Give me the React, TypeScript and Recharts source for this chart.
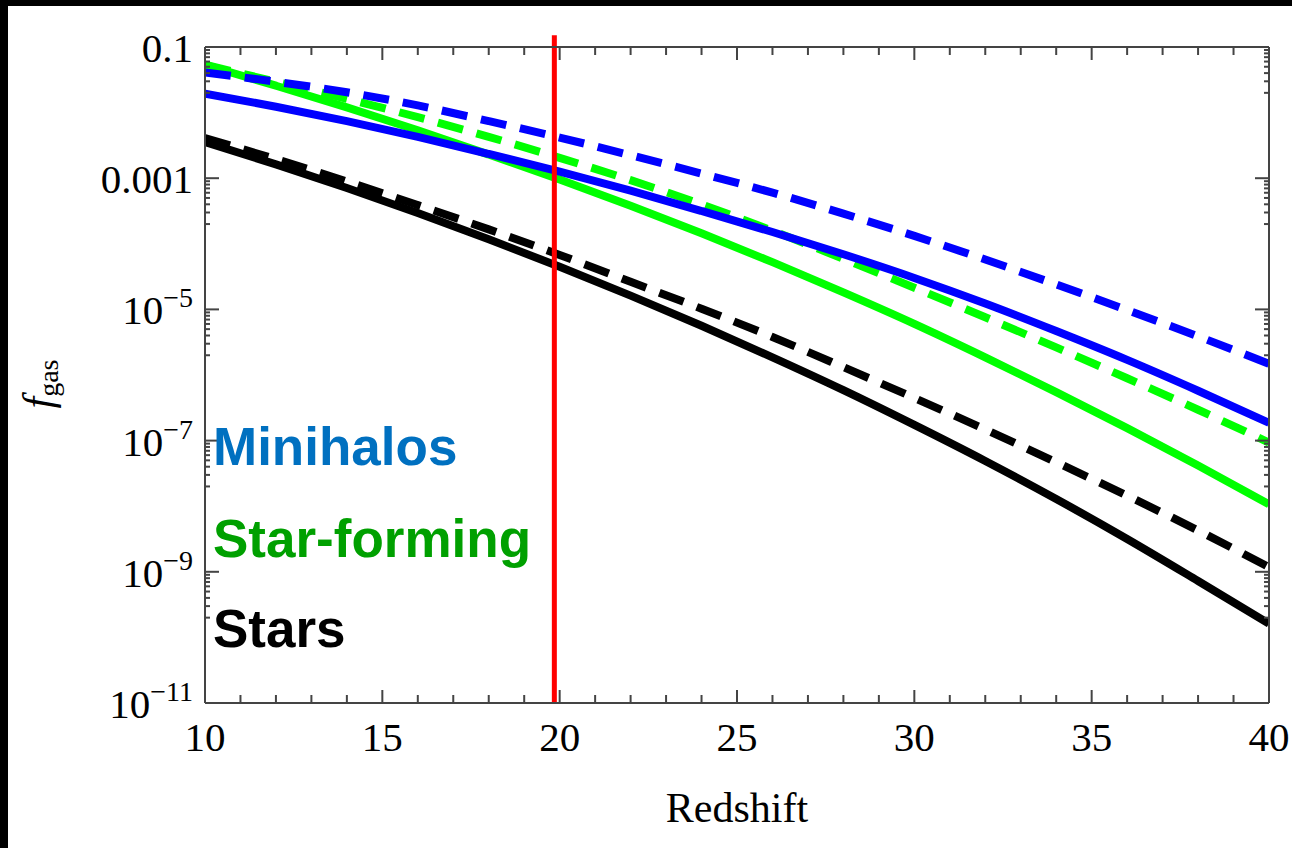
import { LineChart, Line, XAxis, YAxis, ReferenceLine } from "recharts";

// Redshift samples and log10(f_gas)
const redshift = [10, 12, 14, 16, 18, 20, 22, 24, 26, 28, 30, 32, 34, 36, 38, 40];

// Minihalos (blue)
const miniSolid = [-1.71, -1.91, -2.13, -2.37, -2.63, -2.9, -3.19, -3.5, -3.82, -4.16, -4.52, -4.91, -5.33, -5.77, -6.24, -6.73];
const miniDash = [-1.39, -1.53, -1.69, -1.89, -2.13, -2.38, -2.65, -2.93, -3.22, -3.54, -3.88, -4.24, -4.62, -5.01, -5.41, -5.83];

// Star-forming (green)
const sfSolid = [-1.27, -1.59, -1.92, -2.27, -2.64, -3.02, -3.42, -3.84, -4.28, -4.74, -5.22, -5.73, -6.26, -6.81, -7.38, -7.97];
const sfDash = [-1.27, -1.53, -1.79, -2.07, -2.37, -2.69, -3.03, -3.4, -3.8, -4.23, -4.67, -5.12, -5.58, -6.05, -6.53, -7.03];

// Stars (black)
const starSolid = [-2.45, -2.79, -3.15, -3.53, -3.93, -4.35, -4.79, -5.25, -5.73, -6.23, -6.76, -7.31, -7.89, -8.5, -9.14, -9.79];
const starDash = [-2.39, -2.71, -3.05, -3.41, -3.78, -4.17, -4.58, -4.99, -5.42, -5.88, -6.35, -6.83, -7.33, -7.84, -8.37, -8.93];

const cutoffZ = 19.85;

// axis ticks
const xTicks = Array.from({ length: 31 }, (_, i) => 10 + i);
const yLabelTicks = [-1, -3, -5, -7, -9, -11];
const yTickBase = ["0.1", "0.001", "10", "10", "10", "10"];
const yTickExp = ["", "", "\u22125", "\u22127", "\u22129", "\u221211"];
const minorMantissa = [2, 3, 4, 5, 6, 7, 8, 9];

// minor log ticks in the decade below each labelled one
const yMinorTicks = yLabelTicks
  .filter((m) => m > -11)
  .flatMap((m) => minorMantissa.map((j) => m - 1 + Math.log10(j)));
const yTicks = [...yLabelTicks, ...yMinorTicks].sort((a, b) => a - b);

const data = redshift.map((z, i) => ({
  z,
  miniSolid: miniSolid[i],
  miniDash: miniDash[i],
  sfSolid: sfSolid[i],
  sfDash: sfDash[i],
  starSolid: starSolid[i],
  starDash: starDash[i],
}));

const FRAME = "#444";
const SERIF = "'Liberation Serif', 'Times New Roman', serif";
const SANS = "'Liberation Sans', Arial, sans-serif";
const LW = 8;
const DASH = "26 14";

function BottomTick(props: any) {
  const { x, y, payload } = props;
  const major = payload.value % 5 === 0;
  return (
    <g>
      <line x1={x} y1={y} x2={x} y2={y - (major ? 13 : 8)} stroke={FRAME} strokeWidth={2} />
      {major && (
        <text x={x} y={y + 48} textAnchor="middle" fontFamily={SERIF} fontSize={41} fill="#000">
          {payload.value}
        </text>
      )}
    </g>
  );
}

function TopTick(props: any) {
  const { x, y, payload } = props;
  const major = payload.value % 5 === 0;
  return <line x1={x} y1={y} x2={x} y2={y + (major ? 13 : 8)} stroke={FRAME} strokeWidth={2} />;
}

function LeftTick(props: any) {
  const { x, y, payload } = props;
  const idx = yLabelTicks.indexOf(payload.value);
  const major = idx >= 0;
  return (
    <g>
      <line x1={x} y1={y} x2={x + (major ? 14 : 5)} y2={y} stroke={FRAME} strokeWidth={2} />
      {major && (
        <text x={x - 12} y={y + 15} textAnchor="end" fontFamily={SERIF} fontSize={41} fill="#000">
          <tspan>{yTickBase[idx]}</tspan>
          {yTickExp[idx] && (
            <tspan dy={-17} fontSize={28}>
              {yTickExp[idx]}
            </tspan>
          )}
        </text>
      )}
    </g>
  );
}

function RightTick(props: any) {
  const { x, y, payload } = props;
  const major = yLabelTicks.includes(payload.value);
  return <line x1={x} y1={y} x2={x - (major ? 14 : 5)} y2={y} stroke={FRAME} strokeWidth={2} />;
}

export default function App() {
  return (
    <div style={{ position: "absolute", left: 0, top: 0, width: 1292, height: 848, background: "#000" }}>
      <div style={{ position: "absolute", left: 8, top: 6, right: 0, bottom: 0, background: "#fff" }} />
      <div style={{ position: "absolute", left: 0, top: 0 }}>
        <LineChart width={1292} height={848} data={data} margin={{ top: 46, right: 22, bottom: 85, left: 25 }}>
          <XAxis
            dataKey="z"
            type="number"
            domain={[10, 40]}
            ticks={xTicks}
            interval={0}
            allowDataOverflow
            tick={<BottomTick />}
            tickLine={false}
            tickSize={0}
            tickMargin={0}
            height={60}
            axisLine={{ stroke: FRAME, strokeWidth: 2 }}
          />
          <XAxis
            xAxisId="top"
            orientation="top"
            dataKey="z"
            type="number"
            domain={[10, 40]}
            ticks={xTicks}
            interval={0}
            allowDataOverflow
            tick={<TopTick />}
            tickLine={false}
            tickSize={0}
            tickMargin={0}
            height={1}
            axisLine={{ stroke: FRAME, strokeWidth: 2 }}
          />
          <YAxis
            type="number"
            domain={[-11, -1]}
            ticks={yTicks}
            interval={0}
            allowDataOverflow
            tick={<LeftTick />}
            tickLine={false}
            tickSize={0}
            tickMargin={0}
            width={180}
            axisLine={{ stroke: FRAME, strokeWidth: 2 }}
          />
          <YAxis
            yAxisId="right"
            orientation="right"
            type="number"
            domain={[-11, -1]}
            ticks={yTicks}
            interval={0}
            allowDataOverflow
            tick={<RightTick />}
            tickLine={false}
            tickSize={0}
            tickMargin={0}
            width={1}
            axisLine={{ stroke: FRAME, strokeWidth: 2 }}
          />
          <Line type="monotone" dataKey="starSolid" stroke="#000000" strokeWidth={LW} dot={false} isAnimationActive={false} />
          <Line type="monotone" dataKey="starDash" stroke="#000000" strokeWidth={LW} strokeDasharray={DASH} dot={false} isAnimationActive={false} />
          <Line type="monotone" dataKey="sfSolid" stroke="#00FF00" strokeWidth={LW} dot={false} isAnimationActive={false} />
          <Line type="monotone" dataKey="sfDash" stroke="#00FF00" strokeWidth={LW} strokeDasharray={DASH} dot={false} isAnimationActive={false} />
          <Line type="monotone" dataKey="miniSolid" stroke="#0000FF" strokeWidth={LW} dot={false} isAnimationActive={false} />
          <Line type="monotone" dataKey="miniDash" stroke="#0000FF" strokeWidth={LW} strokeDasharray={DASH} dot={false} isAnimationActive={false} />
          <ReferenceLine
            segment={[
              { x: cutoffZ, y: -11 },
              { x: cutoffZ, y: -0.82 },
            ]}
            stroke="#FF0000"
            strokeWidth={5}
            ifOverflow="visible"
          />
        </LineChart>
      </div>
      <svg width={1292} height={848} style={{ position: "absolute", left: 0, top: 0, pointerEvents: "none" }}>
        <text x={737} y={822} textAnchor="middle" fontFamily={SERIF} fontSize={42} fill="#000">
          Redshift
        </text>
        <text transform="translate(52,384) rotate(-90)" textAnchor="middle" fontFamily={SERIF} fill="#000">
          <tspan fontSize={42} fontStyle="italic">f</tspan>
          <tspan fontSize={28} dy={6}>gas</tspan>
        </text>
        <text x={213} y={465} fontFamily={SANS} fontWeight="bold" fontSize={53} fill="#0070C0">
          Minihalos
        </text>
        <text x={213} y={557} fontFamily={SANS} fontWeight="bold" fontSize={53} fill="#00A000">
          Star-forming
        </text>
        <text x={213} y={647} fontFamily={SANS} fontWeight="bold" fontSize={53} fill="#000">
          Stars
        </text>
      </svg>
    </div>
  );
}
